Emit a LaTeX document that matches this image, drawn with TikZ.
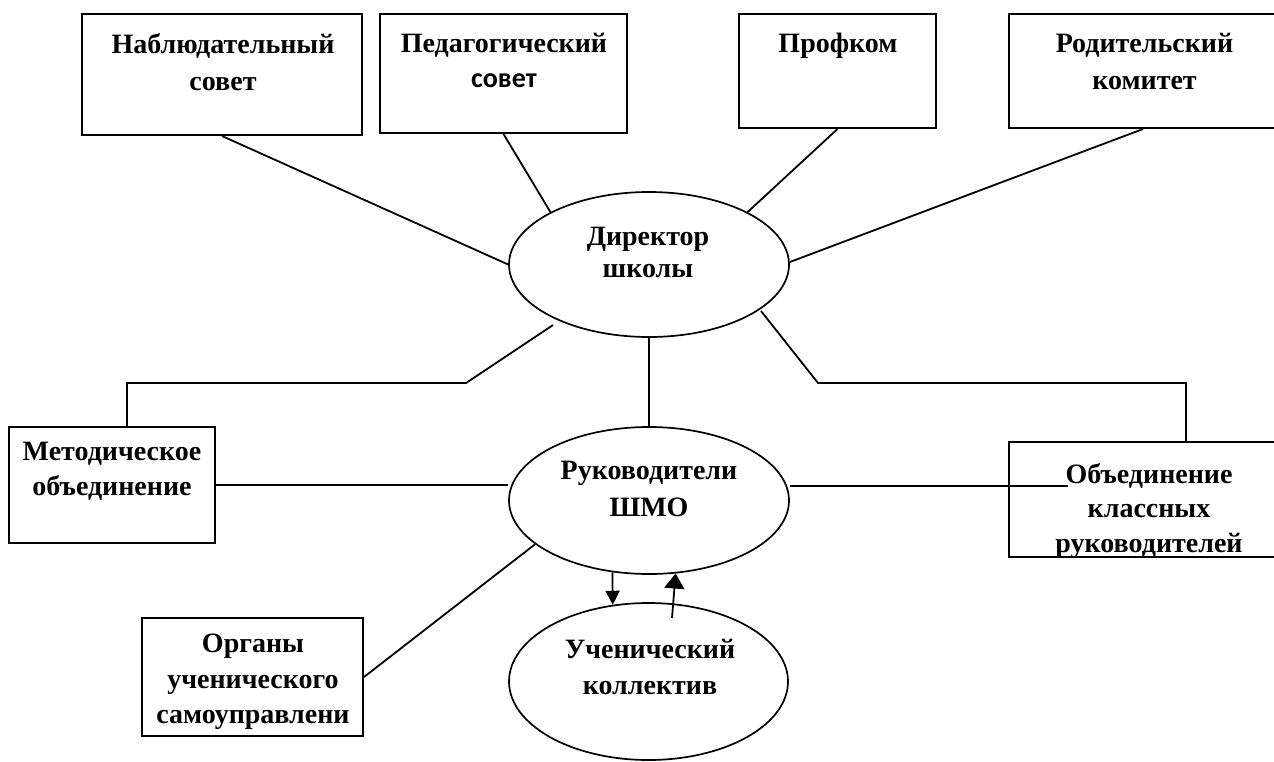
\documentclass[tikz,border=0pt]{standalone}
\usepackage{fontspec}
\setmainfont{Liberation Serif}
\newfontfamily\calib{Carlito}
\usetikzlibrary{shapes.geometric,arrows.meta}
\begin{document}
\begin{tikzpicture}[x=1pt,y=-1pt,
  box/.style={draw, line width=2pt, rectangle, inner sep=0pt},
  oval/.style={draw, line width=1.7pt, ellipse, inner sep=0pt},
  txt/.style={anchor=north, inner sep=0pt, align=center, font=\fontsize{28}{35}\selectfont\bfseries},
  link/.style={line width=1.8pt}]
\useasboundingbox (0,0) rectangle (1274,761);
\clip (0,0) rectangle (1274,761);
% boxes
\node[box, minimum width=280pt, minimum height=121pt] (b1) at (222,74.5) {};
\node[box, minimum width=247pt, minimum height=119pt] (b2) at (503.5,73.5) {};
\node[box, minimum width=197pt, minimum height=114pt] (b3) at (837.5,71) {};
\node[box, minimum width=268pt, minimum height=114pt] (b4) at (1143,71) {};
\node[box, minimum width=206pt, minimum height=116pt] (met) at (112,485) {};
\node[box, minimum width=354pt, minimum height=115pt] (obj) at (1186,499.5) {};
\node[box, minimum width=221pt, minimum height=118pt] (org) at (252.5,677) {};
% ellipses
\node[oval, minimum width=280pt, minimum height=145pt] (dir) at (649,264.5) {};
\node[oval, minimum width=280pt, minimum height=147pt] (shmo) at (649,500.5) {};
\node[oval, minimum width=279pt, minimum height=157pt] (stu) at (648.5,681.5) {};
% texts
\node[txt] (t1) at (223,28.5) {\strut Наблюдательный\\[2pt]совет};
\node[txt] (t2) at (504,27.5) {\strut Педагогический\\[0pt]{\calib совет}};
\node[txt] (t3) at (838,27.5) {\strut Профком};
\node[txt] (t4) at (1144.5,27.5) {\strut Родительский\\[2pt]комитет};
\node[txt] (tdir) at (648,220.5) {\strut Директор\\[-3pt]школы};
\node[txt] (tshmo) at (649,455) {\strut Руководители\\[2pt]ШМО};
\node[txt] (tstu) at (650,634) {\strut Ученический\\[1pt]коллектив};
\node[txt] (tmet) at (112,436) {\strut Методическое\\объединение};
\node[txt] (tobj) at (1149,458.5) {\strut Объединение\\[-1pt]классных\\руководителей};
\node[txt] (torg) at (253,627.5) {\strut Органы\\[1pt]ученического\\самоуправлени};
% connectors
\draw[link] (b1.south) -- (dir.180);
\draw[link] (b2.south) -- (dir.152.5);
\draw[link] (b3.south) -- (dir.28);
\draw[link] (b4.south) -- (dir.1);
\coordinate (lk1) at (466,383);
\coordinate (lk2) at (553,325);
\draw[link] ([xshift=15pt]met.north) |- (lk1) -- (lk2);
\coordinate (rk1) at (761,311);
\coordinate (rk2) at (818,383);
\draw[link] (rk1) -- (rk2) -| (obj.north);
\draw[link] (dir.south) -- (shmo.north);
\draw[link] (met.east) -- (met.east -| shmo.west);
\coordinate (oj) at (1068,486);
\draw[link] (oj -| shmo.east) -- (oj);
\draw[link] (org.east) -- (shmo.201.1);
\draw[link, -{Triangle[width=14pt,length=14pt]}] (shmo.243.3) -- (stu.115);
\coordinate (up) at (672,618);
\draw[link, -{Triangle[width=20pt,length=15pt]}] (up) -- (shmo.-70.2);
\end{tikzpicture}
\end{document}
